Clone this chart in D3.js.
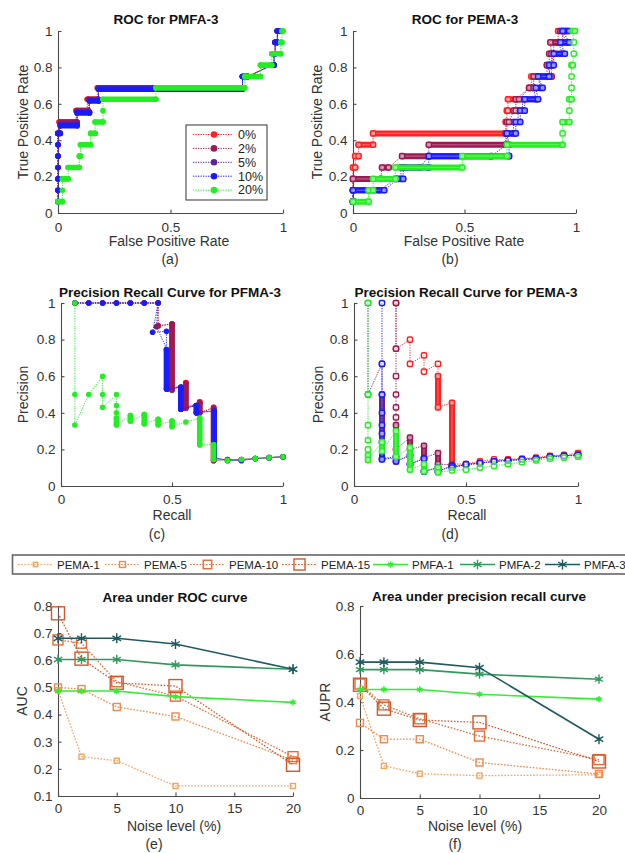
<!DOCTYPE html>
<html lang="en">
<head>
<meta charset="UTF-8">
<title>ROC and precision recall curves under noise</title>
<style>
    body {
        margin: 0;
        padding: 0;
        background: #fff;
        font-family: "Liberation Sans", Arial, sans-serif;
    }
    .axis path, .axis line { stroke: #4a4a4a; stroke-width: 1.1; }
    .axis text { fill: #333; font-size: 13.5px; font-family: "Liberation Sans", Arial, sans-serif; }
    .title { font-weight: bold; font-size: 13.5px; fill: #111; }
    .label { font-size: 14px; fill: #333; }
    .legend text { font-size: 11.5px; fill: #222; }
</style>
</head>
<body>
<div id="chart"></div>

<script src="https://d3js.org/d3.v7.min.js"></script>
<script>
// ---------- data ----------
// ROC rows: [TPR, FPR start, FPR end]; PR rows: [recall, precision start, precision end]
var noiseLabels = ["0%", "2%", "5%", "10%", "20%"];

var rocPmfa0 = [[0.0625,0,0],[0.125,0,0],[0.1875,0,0],[0.25,0,0],[0.3125,0,0],[0.375,0,0],[0.4375,0,0],[0.5,0.005,0.08],[0.5625,0.08,0.13],[0.625,0.13,0.175],[0.6875,0.175,0.82],[0.75,0.82,0.84],[0.8125,0.95,0.96],[0.875,0.96,0.965],[0.9375,0.965,0.975],[1,0.975,0.99]];
var rocPmfa2 = [[0.0625,0,0],[0.125,0,0],[0.1875,0,0],[0.25,0,0],[0.3125,0,0],[0.375,0,0],[0.4375,0,0.005],[0.5,0.01,0.085],[0.5625,0.085,0.135],[0.625,0.135,0.18],[0.6875,0.18,0.82],[0.75,0.82,0.845],[0.8125,0.95,0.96],[0.875,0.96,0.965],[0.9375,0.965,0.975],[1,0.975,0.99]];
var rocPmfa5 = [[0.0625,0,0],[0.125,0,0],[0.1875,0,0],[0.25,0,0],[0.3125,0,0],[0.375,0,0],[0.4375,0,0.01],[0.49,0.01,0.085],[0.555,0.085,0.14],[0.62,0.14,0.18],[0.685,0.18,0.82],[0.75,0.82,0.845],[0.8125,0.95,0.96],[0.875,0.96,0.965],[0.9375,0.965,0.975],[1,0.975,0.99]];
var rocPmfa10 = [[0.0625,0,0],[0.125,0,0],[0.1875,0,0],[0.25,0,0],[0.3125,0,0],[0.375,0,0],[0.4375,0,0.01],[0.48,0.01,0.085],[0.55,0.085,0.14],[0.615,0.14,0.18],[0.68,0.18,0.82],[0.75,0.82,0.845],[0.8125,0.95,0.96],[0.875,0.96,0.965],[0.9375,0.965,0.975],[1,0.975,0.99]];
var rocPmfa20 = [[0.0625,0,0.02],[0.125,0.02,0.02],[0.1875,0.02,0.045],[0.25,0.045,0.095],[0.3125,0.095,0.1],[0.375,0.1,0.145],[0.4375,0.145,0.165],[0.5,0.165,0.2],[0.5625,0.2,0.2],[0.625,0.2,0.435],[0.6875,0.435,0.83],[0.75,0.83,0.9],[0.8125,0.9,0.95],[0.875,0.95,0.99],[0.9375,0.99,0.995],[1,0.995,1]];

var rocPema0 = [[0.0625,0,0],[0.125,0,0],[0.1875,0,0],[0.25,0,0.01],[0.3125,0.01,0.025],[0.375,0.025,0.09],[0.4375,0.09,0.685],[0.5,0.685,0.69],[0.5625,0.69,0.695],[0.625,0.695,0.73],[0.6875,0.79,0.8],[0.75,0.8,0.89],[0.8125,0.89,0.895],[0.875,0.895,0.9],[0.9375,0.9,0.92],[1,0.92,0.95]];
var rocPema2 = [[0.0625,0,0],[0.125,0,0],[0.1875,0,0.125],[0.25,0.13,0.16],[0.3125,0.22,0.34],[0.375,0.34,0.685],[0.4375,0.685,0.69],[0.5,0.69,0.7],[0.5625,0.72,0.73],[0.625,0.73,0.745],[0.6875,0.79,0.81],[0.75,0.81,0.89],[0.8125,0.87,0.88],[0.875,0.88,0.89],[0.9375,0.885,0.94],[1,0.94,0.955]];
var rocPema5 = [[0.0625,0,0],[0.125,0,0.12],[0.1875,0.19,0.215],[0.25,0.215,0.3],[0.3125,0.34,0.62],[0.375,0.69,0.69],[0.4375,0.69,0.72],[0.5,0.72,0.74],[0.5625,0.74,0.76],[0.625,0.76,0.82],[0.6875,0.81,0.84],[0.75,0.83,0.87],[0.8125,0.87,0.89],[0.875,0.89,0.94],[0.9375,0.92,0.96],[1,0.93,0.96]];
var rocPema10 = [[0.0625,0,0],[0.125,0,0.14],[0.1875,0.2,0.225],[0.25,0.225,0.34],[0.3125,0.34,0.7],[0.375,0.7,0.7],[0.4375,0.69,0.73],[0.5,0.73,0.75],[0.5625,0.75,0.77],[0.625,0.77,0.83],[0.6875,0.82,0.85],[0.75,0.83,0.88],[0.8125,0.88,0.9],[0.875,0.9,0.95],[0.9375,0.93,0.97],[1,0.94,0.97]];
var rocPema20 = [[0.0625,0,0.07],[0.125,0.07,0.09],[0.1875,0.09,0.19],[0.25,0.19,0.49],[0.3125,0.49,0.69],[0.375,0.69,0.94],[0.4375,0.94,0.94],[0.5,0.94,0.97],[0.5625,0.97,0.97],[0.625,0.97,0.98],[0.6875,0.98,0.98],[0.75,0.98,0.98],[0.8125,0.98,0.985],[0.875,0.99,0.99],[0.9375,0.99,0.99],[1,0.985,0.995]];

var prPmfa0 = [[0.0625,1,1],[0.125,1,1],[0.1875,1,1],[0.25,1,1],[0.3125,1,1],[0.375,1,1],[0.4375,1,1],[0.4375,0.875,0.875],[0.5,0.885,0.53],[0.5625,0.565,0.43],[0.625,0.46,0.4],[0.6875,0.43,0.14],[0.75,0.145,0.145],[0.8125,0.145,0.145],[0.875,0.15,0.15],[0.9375,0.155,0.155],[1,0.16,0.16]];
var prPmfa2 = [[0.0625,1,1],[0.125,1,1],[0.1875,1,1],[0.25,1,1],[0.3125,1,1],[0.375,1,1],[0.4375,1,1],[0.4375,0.875,0.875],[0.5,0.885,0.525],[0.5625,0.56,0.425],[0.625,0.455,0.4],[0.6875,0.425,0.14],[0.75,0.145,0.145],[0.8125,0.145,0.145],[0.875,0.15,0.15],[0.9375,0.155,0.155],[1,0.16,0.16]];
var prPmfa5 = [[0.0625,1,1],[0.125,1,1],[0.1875,1,1],[0.25,1,1],[0.3125,1,1],[0.375,1,1],[0.4375,1,1],[0.43,0.87,0.87],[0.48,0.74,0.53],[0.54,0.54,0.42],[0.61,0.44,0.4],[0.69,0.41,0.155],[0.75,0.14,0.14],[0.8125,0.14,0.14],[0.875,0.15,0.15],[0.9375,0.155,0.155],[1,0.16,0.16]];
var prPmfa10 = [[0.0625,1,1],[0.125,1,1],[0.1875,1,1],[0.25,1,1],[0.3125,1,1],[0.375,1,1],[0.4375,1,1],[0.4125,0.84,0.84],[0.475,0.845,0.845],[0.475,0.745,0.53],[0.54,0.54,0.42],[0.61,0.44,0.4],[0.69,0.41,0.155],[0.75,0.14,0.14],[0.8125,0.14,0.14],[0.875,0.15,0.15],[0.9375,0.155,0.155],[1,0.16,0.16]];
var prPmfa20 = [[0.0625,1,1],[0.0625,0.5,0.5],[0.0625,0.333,0.333],[0.125,0.5,0.5],[0.1875,0.6,0.6],[0.1875,0.5,0.5],[0.1875,0.43,0.43],[0.25,0.5,0.5],[0.25,0.44,0.44],[0.25,0.4,0.4],[0.25,0.37,0.335],[0.3125,0.385,0.355],[0.375,0.39,0.34],[0.4375,0.365,0.335],[0.5,0.355,0.325],[0.5625,0.35,0.35],[0.625,0.37,0.225],[0.6875,0.225,0.145],[0.75,0.14,0.14],[0.8125,0.145,0.145],[0.875,0.15,0.15],[0.9375,0.155,0.155],[1,0.16,0.16]];

var prPema0 = [[0.1875,1,1],[0.1875,0.75,0.75],[0.25,0.8,0.8],[0.25,0.667,0.667],[0.3125,0.714,0.714],[0.3125,0.625,0.625],[0.375,0.667,0.667],[0.375,0.6,0.43],[0.4375,0.455,0.12],[0.5,0.12,0.12],[0.5625,0.135,0.135],[0.625,0.145,0.145],[0.6875,0.145,0.145],[0.75,0.15,0.15],[0.8125,0.155,0.155],[0.875,0.165,0.165],[0.9375,0.17,0.17],[1,0.18,0.18]];
var prPema2 = [[0.1875,1,1],[0.1875,0.75,0.75],[0.1875,0.6,0.6],[0.1875,0.5,0.5],[0.1875,0.43,0.43],[0.1875,0.375,0.375],[0.1875,0.333,0.2],[0.25,0.265,0.2],[0.3125,0.22,0.155],[0.375,0.18,0.12],[0.4375,0.115,0.11],[0.5,0.115,0.115],[0.5625,0.125,0.125],[0.625,0.135,0.135],[0.6875,0.14,0.14],[0.75,0.145,0.145],[0.8125,0.15,0.15],[0.875,0.16,0.16],[0.9375,0.165,0.165],[1,0.17,0.17]];
var prPema5 = [[0.0625,1,1],[0.0625,0.5,0.5],[0.125,0.667,0.667],[0.125,0.5,0.15],[0.1875,0.16,0.135],[0.25,0.17,0.12],[0.3125,0.15,0.08],[0.375,0.1,0.08],[0.4375,0.11,0.1],[0.5,0.115,0.115],[0.5625,0.125,0.125],[0.625,0.135,0.135],[0.6875,0.14,0.14],[0.75,0.145,0.145],[0.8125,0.15,0.15],[0.875,0.16,0.16],[0.9375,0.165,0.165],[1,0.17,0.17]];
var prPema10 = [[0.125,1,1],[0.125,0.667,0.667],[0.125,0.5,0.5],[0.125,0.4,0.4],[0.125,0.333,0.333],[0.125,0.286,0.286],[0.125,0.24,0.145],[0.1875,0.155,0.135],[0.25,0.165,0.12],[0.3125,0.15,0.08],[0.375,0.1,0.08],[0.4375,0.11,0.1],[0.5,0.12,0.12],[0.5625,0.125,0.125],[0.625,0.135,0.135],[0.6875,0.14,0.14],[0.75,0.145,0.145],[0.8125,0.15,0.15],[0.875,0.16,0.16],[0.9375,0.165,0.165],[1,0.17,0.17]];
var prPema20 = [[0.0625,1,1],[0.0625,0.5,0.5],[0.0625,0.333,0.333],[0.0625,0.25,0.25],[0.0625,0.2,0.2],[0.0625,0.167,0.143],[0.125,0.24,0.19],[0.1875,0.3,0.16],[0.25,0.21,0.09],[0.3125,0.12,0.08],[0.375,0.1,0.075],[0.4375,0.085,0.085],[0.5,0.09,0.09],[0.5625,0.1,0.1],[0.625,0.11,0.11],[0.6875,0.12,0.12],[0.75,0.13,0.13],[0.8125,0.14,0.14],[0.875,0.15,0.15],[0.9375,0.155,0.155],[1,0.16,0.16]];

// summary panels
var noiseLevels = [0, 2, 5, 10, 20];
var seriesNames = ["PEMA-1", "PEMA-5", "PEMA-10", "PEMA-15", "PMFA-1", "PMFA-2", "PMFA-3"];

var aucPema1  = [0.49, 0.245, 0.23, 0.137, 0.137];
var aucPema5  = [0.5, 0.494, 0.428, 0.393, 0.232];
var aucPema10 = [0.675, 0.663, 0.521, 0.468, 0.245];
var aucPema15 = [0.773, 0.606, 0.517, 0.505, 0.215];
var aucPmfa1  = [0.487, 0.487, 0.487, 0.466, 0.445];
var aucPmfa2  = [0.603, 0.603, 0.603, 0.583, 0.567];
var aucPmfa3  = [0.681, 0.681, 0.681, 0.66, 0.567];

var auprPema1  = [0.425, 0.134, 0.101, 0.093, 0.097];
var auprPema5  = [0.313, 0.245, 0.245, 0.148, 0.1];
var auprPema10 = [0.475, 0.388, 0.33, 0.258, 0.16];
var auprPema15 = [0.472, 0.372, 0.325, 0.315, 0.152];
var auprPmfa1  = [0.452, 0.452, 0.452, 0.432, 0.412];
var auprPmfa2  = [0.535, 0.535, 0.535, 0.516, 0.495];
var auprPmfa3  = [0.566, 0.566, 0.566, 0.543, 0.245];

var rateTicks = [0, 0.2, 0.4, 0.6, 0.8, 1];
var unitTicks = [0, 0.5, 1];
var noiseTicks = [0, 5, 10, 15, 20];
var aucTicks = [0.1, 0.2, 0.3, 0.4, 0.5, 0.6, 0.7, 0.8];
var auprTicks = [0, 0.2, 0.4, 0.6, 0.8];

// ---------- styles ----------
var noiseColors = ["#ff2020", "#9c1a52", "#5e2399", "#1a1aff", "#22ee22"];
var summaryStyle = [
    { color: "#f5a45f", size: 5,  kind: "square" },
    { color: "#ee8a4c", size: 7,  kind: "square" },
    { color: "#e06e3a", size: 10, kind: "square" },
    { color: "#d2582c", size: 13, kind: "square" },
    { color: "#33ee33", size: 28, kind: "star" },
    { color: "#2f9a5c", size: 60, kind: "star" },
    { color: "#1e5a5e", size: 70, kind: "star" }
];

var fmt = d3.format("~g");

var svg = d3.select("#chart").append("svg")
    .attr("width", 625)
    .attr("height", 853);

function makePanel(p) {
    var x = d3.scaleLinear().domain(p.xDomain).range([p.left, p.right]);
    var y = d3.scaleLinear().domain(p.yDomain).range([p.bottom, p.top]);
    var g = svg.append("g");

    g.append("g").attr("class", "axis")
        .attr("transform", "translate(0," + p.bottom + ")")
        .call(d3.axisBottom(x).tickValues(p.xTicks).tickFormat(fmt)
            .tickSizeInner(-3.5).tickSizeOuter(0).tickPadding(p.xPad));

    g.append("g").attr("class", "axis")
        .attr("transform", "translate(" + p.left + ",0)")
        .call(d3.axisLeft(y).tickValues(p.yTicks).tickFormat(fmt)
            .tickSizeInner(-3.5).tickSizeOuter(0).tickPadding(5.5));

    g.append("text").attr("class", "title")
        .attr("x", p.titleX).attr("y", p.titleY)
        .attr("text-anchor", "middle").text(p.title);

    g.append("text").attr("class", "label")
        .attr("x", p.xlabelX).attr("y", p.xlabelY)
        .attr("text-anchor", "middle").text(p.xlabel);

    g.append("text").attr("class", "label")
        .attr("transform", "translate(" + p.ylabelX + "," + ((p.top + p.bottom) / 2) + ") rotate(-90)")
        .attr("text-anchor", "middle").text(p.ylabel);

    g.append("text").attr("class", "label")
        .attr("x", p.tagX).attr("y", p.tagY)
        .attr("text-anchor", "middle").text(p.tag);

    return { x: x, y: y, plot: g.append("g") };
}

// draws dense runs of thresholds as thick bands, single thresholds as markers
function drawRuns(panel, rows, orient, color, hollow) {
    var x = panel.x, y = panel.y;
    var pt = orient === "h"
        ? function(v, lvl) { return [x(v), y(lvl)]; }
        : function(v, lvl) { return [x(lvl), y(v)]; };
    var g = panel.plot.append("g");

    var pts = [];
    rows.forEach(function(r) { pts.push(pt(r[1], r[0])); pts.push(pt(r[2], r[0])); });

    g.append("path")
        .attr("d", d3.line()(pts))
        .attr("fill", "none")
        .attr("stroke", color)
        .attr("stroke-width", 0.9)
        .attr("stroke-dasharray", "1.3,1.2");

    var runs = rows.filter(function(r) { return r[1] !== r[2]; });
    g.selectAll(".band").data(runs).join("line")
        .attr("class", "band")
        .attr("x1", function(r) { return pt(r[1], r[0])[0]; })
        .attr("y1", function(r) { return pt(r[1], r[0])[1]; })
        .attr("x2", function(r) { return pt(r[2], r[0])[0]; })
        .attr("y2", function(r) { return pt(r[2], r[0])[1]; })
        .attr("stroke", color)
        .attr("stroke-width", hollow ? 6 : 5.6)
        .attr("stroke-linecap", "round");

    if (hollow) {
        g.selectAll(".inner").data(runs).join("line")
            .attr("class", "inner")
            .attr("x1", function(r) { return pt(r[1], r[0])[0]; })
            .attr("y1", function(r) { return pt(r[1], r[0])[1]; })
            .attr("x2", function(r) { return pt(r[2], r[0])[0]; })
            .attr("y2", function(r) { return pt(r[2], r[0])[1]; })
            .attr("stroke", "#fff")
            .attr("stroke-width", 1.2)
            .attr("stroke-opacity", 0.3);
    }

    var ends = [];
    rows.forEach(function(r) {
        ends.push(pt(r[1], r[0]));
        if (r[1] !== r[2]) ends.push(pt(r[2], r[0]));
    });

    if (hollow) {
        g.selectAll(".mk").data(ends).join("rect")
            .attr("class", "mk")
            .attr("x", function(d) { return d[0] - 2.6; })
            .attr("y", function(d) { return d[1] - 2.6; })
            .attr("width", 5.2).attr("height", 5.2).attr("rx", 1.5)
            .attr("fill", "#fff").attr("fill-opacity", 0.5)
            .attr("stroke", color).attr("stroke-width", 1.5);
    } else {
        g.selectAll(".mk").data(ends).join("circle")
            .attr("class", "mk")
            .attr("cx", function(d) { return d[0]; })
            .attr("cy", function(d) { return d[1]; })
            .attr("r", 2.8)
            .attr("fill", color);
    }
}

function marker(sel, st) {
    if (st.kind === "square") {
        sel.append("rect")
            .attr("x", -st.size / 2).attr("y", -st.size / 2)
            .attr("width", st.size).attr("height", st.size)
            .attr("fill", "none").attr("stroke", st.color).attr("stroke-width", 1.4);
    } else {
        sel.append("path")
            .attr("d", d3.symbol(d3.symbolAsterisk, st.size)())
            .attr("fill", "none").attr("stroke", st.color).attr("stroke-width", 1.4);
        sel.append("circle").attr("r", st.size < 40 ? 2 : 1.6).attr("fill", st.color);
    }
}

function drawSummary(panel, seriesList) {
    seriesList.forEach(function(vals, i) {
        var st = summaryStyle[i];
        var pts = noiseLevels.map(function(n, j) { return [panel.x(n), panel.y(vals[j])]; });
        var g = panel.plot.append("g");
        g.append("path")
            .attr("d", d3.line()(pts))
            .attr("fill", "none")
            .attr("stroke", st.color)
            .attr("stroke-width", st.kind === "square" ? 1.3 : 1.6)
            .attr("stroke-dasharray", st.kind === "square" ? "1.6,1.6" : null);
        g.selectAll("g").data(pts).join("g")
            .attr("transform", function(d) { return "translate(" + d[0] + "," + d[1] + ")"; })
            .each(function() { marker(d3.select(this), st); });
    });
}

// ---------- (a) ROC for PMFA-3 ----------
var pa = makePanel({
    left: 58, right: 283, top: 31, bottom: 213, xPad: 9,
    xDomain: [0, 1], yDomain: [0, 1], xTicks: unitTicks, yTicks: rateTicks,
    title: "ROC for PMFA-3", titleX: 166, titleY: 24,
    xlabel: "False Positive Rate", xlabelX: 169, xlabelY: 246,
    ylabel: "True Positive Rate", ylabelX: 28,
    tag: "(a)", tagX: 170, tagY: 264
});
[rocPmfa0, rocPmfa2, rocPmfa5, rocPmfa10, rocPmfa20].forEach(function(rows, i) {
    drawRuns(pa, rows, "h", noiseColors[i], false);
});

// legend inside (a)
var leg = svg.append("g").attr("class", "legend");
leg.append("rect").attr("x", 186).attr("y", 125).attr("width", 81).attr("height", 75)
    .attr("fill", "#fff").attr("stroke", "#444").attr("stroke-width", 1.1);
var legItem = leg.selectAll(".li").data(noiseLabels).join("g")
    .attr("class", "li")
    .attr("transform", function(d, i) { return "translate(0," + (134.5 + i * 13.9) + ")"; });
legItem.append("line").attr("x1", 193).attr("x2", 233)
    .attr("stroke", function(d, i) { return noiseColors[i]; })
    .attr("stroke-width", 1).attr("stroke-dasharray", "1.3,1.2");
legItem.append("circle").attr("cx", 214).attr("r", 3.3)
    .attr("fill", function(d, i) { return noiseColors[i]; });
legItem.append("text").attr("x", 238).attr("dy", "0.35em")
    .style("font-size", "12.5px").text(function(d) { return d; });

// ---------- (b) ROC for PEMA-3 ----------
var pb = makePanel({
    left: 353, right: 576, top: 31, bottom: 213, xPad: 9,
    xDomain: [0, 1], yDomain: [0, 1], xTicks: unitTicks, yTicks: rateTicks,
    title: "ROC for PEMA-3", titleX: 465, titleY: 24,
    xlabel: "False Positive Rate", xlabelX: 464, xlabelY: 246,
    ylabel: "True Positive Rate", ylabelX: 322,
    tag: "(b)", tagX: 450, tagY: 264
});
[rocPema0, rocPema5, rocPema2, rocPema10, rocPema20].forEach(function(rows, i) {
    var c = [0, 2, 1, 3, 4][i];
    drawRuns(pb, rows, "h", noiseColors[c], true);
});

// ---------- (c) PR for PFMA-3 ----------
var pc = makePanel({
    left: 61, right: 283, top: 303, bottom: 486, xPad: 8,
    xDomain: [0, 1], yDomain: [0, 1], xTicks: unitTicks, yTicks: rateTicks,
    title: "Precision Recall Curve for PFMA-3", titleX: 170, titleY: 297,
    xlabel: "Recall", xlabelX: 172, xlabelY: 520,
    ylabel: "Precision", ylabelX: 28,
    tag: "(c)", tagX: 157, tagY: 539
});
[prPmfa0, prPmfa5, prPmfa2, prPmfa10, prPmfa20].forEach(function(rows, i) {
    var c = [0, 2, 1, 3, 4][i];
    drawRuns(pc, rows, "v", noiseColors[c], false);
});

// ---------- (d) PR for PEMA-3 ----------
var pd = makePanel({
    left: 354, right: 578, top: 303, bottom: 486, xPad: 8,
    xDomain: [0, 1], yDomain: [0, 1], xTicks: unitTicks, yTicks: rateTicks,
    title: "Precision Recall Curve for PEMA-3", titleX: 466, titleY: 297,
    xlabel: "Recall", xlabelX: 467, xlabelY: 520,
    ylabel: "Precision", ylabelX: 323,
    tag: "(d)", tagX: 450, tagY: 539
});
[prPema0, prPema2, prPema5, prPema10, prPema20].forEach(function(rows, i) {
    drawRuns(pd, rows, "v", noiseColors[i], true);
});

// ---------- shared legend ----------
var legendX = [18, 105, 190, 282, 373, 460, 545];
var bl = svg.append("g").attr("class", "legend");
bl.append("rect").attr("x", 12.5).attr("y", 555).attr("width", 640).attr("height", 19)
    .attr("fill", "#fff").attr("stroke", "#666").attr("stroke-width", 1.6);
var blItem = bl.selectAll(".bi").data(seriesNames).join("g")
    .attr("class", "bi")
    .attr("transform", function(d, i) { return "translate(" + legendX[i] + ",564.5)"; });
blItem.append("line").attr("x1", 0).attr("x2", 35)
    .attr("stroke", function(d, i) { return summaryStyle[i].color; })
    .attr("stroke-width", function(d, i) { return summaryStyle[i].kind === "square" ? 1.2 : 1.6; })
    .attr("stroke-dasharray", function(d, i) { return summaryStyle[i].kind === "square" ? "1.6,1.6" : null; });
blItem.append("g").attr("transform", "translate(17.5,0)")
    .each(function(d, i) {
        var st = summaryStyle[i];
        marker(d3.select(this), st.kind === "square" ? { color: st.color, size: st.size * 0.85, kind: "square" } : st);
    });
blItem.append("text").attr("x", 39).attr("dy", "0.35em").text(function(d) { return d; });

// ---------- (e) AUC ----------
var pe = makePanel({
    left: 58, right: 293, top: 606, bottom: 796, xPad: 7.5,
    xDomain: [0, 20], yDomain: [0.1, 0.8], xTicks: noiseTicks, yTicks: aucTicks,
    title: "Area under ROC curve", titleX: 175, titleY: 602,
    xlabel: "Noise level (%)", xlabelX: 174, xlabelY: 831,
    ylabel: "AUC", ylabelX: 27,
    tag: "(e)", tagX: 154, tagY: 849
});
drawSummary(pe, [aucPema1, aucPema5, aucPema10, aucPema15, aucPmfa1, aucPmfa2, aucPmfa3]);

// ---------- (f) AUPR ----------
var pf = makePanel({
    left: 360, right: 599, top: 606, bottom: 798, xPad: 7.5,
    xDomain: [0, 20], yDomain: [0, 0.8], xTicks: noiseTicks, yTicks: auprTicks,
    title: "Area under precision recall curve", titleX: 479, titleY: 601,
    xlabel: "Noise level (%)", xlabelX: 475, xlabelY: 831,
    ylabel: "AUPR", ylabelX: 330,
    tag: "(f)", tagX: 455, tagY: 849
});
drawSummary(pf, [auprPema1, auprPema5, auprPema10, auprPema15, auprPmfa1, auprPmfa2, auprPmfa3]);
</script>
</body>
</html>
